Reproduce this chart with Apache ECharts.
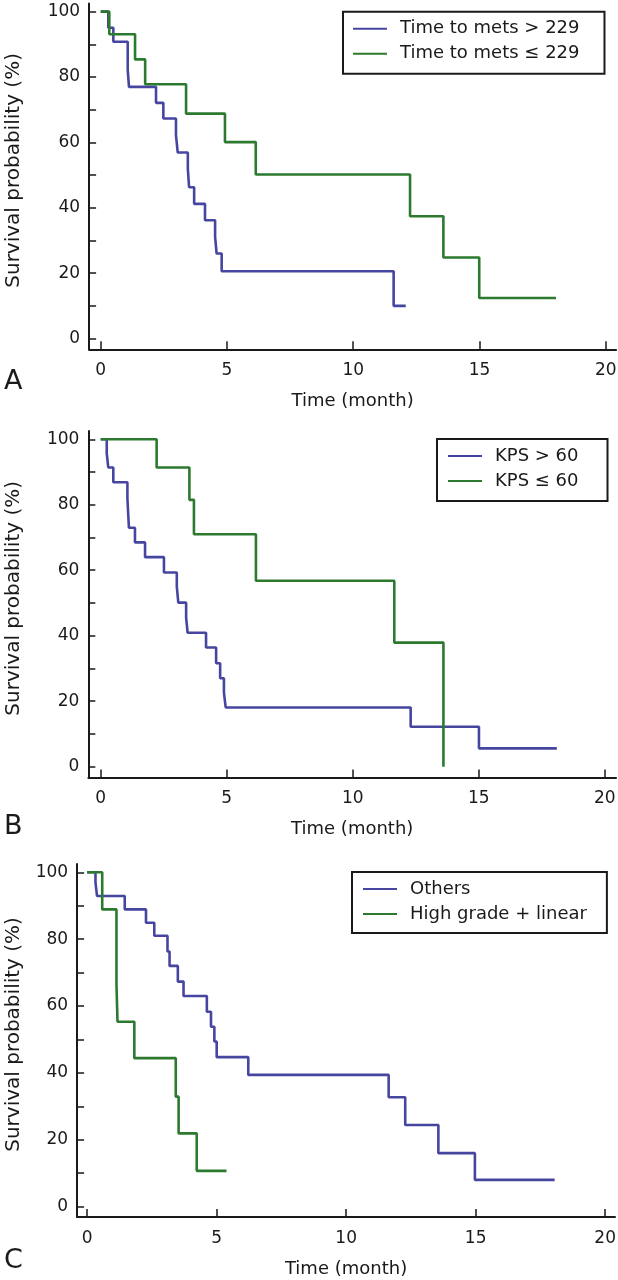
<!DOCTYPE html>
<html><head><meta charset="utf-8">
<script src="https://cdn.jsdelivr.net/npm/echarts@6.0.0/dist/echarts.min.js"></script>
<style>html,body{margin:0;padding:0;background:#fff}#c{width:618px;height:1280px}</style>
</head><body><div id="c"></div>
<script>
// ---- tick values ----
const xTickValues = [0, 5, 10, 15, 20];
const yLabelValues = [0, 20, 40, 60, 80, 100];
const yTickValues = [0, 10, 20, 30, 40, 50, 60, 70, 80, 90, 100];
const xTitle = 'Time (month)';
const yTitle = 'Survival probability (%)';
const panelLetters = ['A', 'B', 'C'];

// ---- Panel A ----
const aNames = ['Time to mets > 229', 'Time to mets \u2264 229'];
const aBlueTime = [0, 0.30, 0.50, 1.07, 1.12, 2.19, 2.48, 2.98, 3.05, 3.45, 3.50, 3.70, 4.13, 4.53, 4.59, 4.79, 11.60, 12.08];
const aBlueSurv = [100, 95.1, 90.8, 82.1, 77.0, 72.1, 67.3, 62.2, 56.9, 52.0, 46.3, 41.2, 36.2, 31.1, 26.0, 20.6, 10.0, 10.0];
const aGreenTime = [0, 0.34, 1.36, 1.76, 3.38, 4.92, 6.14, 12.25, 13.57, 14.99, 18.03];
const aGreenSurv = [100, 93.1, 85.4, 77.8, 68.8, 60.1, 50.2, 37.4, 24.8, 12.4, 12.4];

// ---- Panel B ----
const bNames = ['KPS > 60', 'KPS \u2264 60'];
const bBlueTime = [0, 0.24, 0.30, 0.50, 1.06, 1.09, 1.12, 1.36, 1.76, 2.51, 3.02, 3.08, 3.39, 3.45, 4.18, 4.58, 4.74, 4.89, 4.96, 12.30, 15.01, 18.10];
const bBlueSurv = [100, 95.7, 91.4, 86.9, 81.9, 77.4, 73.0, 68.5, 64.0, 59.3, 55.0, 50.1, 45.5, 40.9, 36.4, 31.6, 27.0, 22.6, 18.1, 12.2, 5.6, 5.6];
const bGreenTime = [0, 2.22, 3.52, 3.70, 6.16, 11.65, 13.60];
const bGreenSurv = [100, 91.4, 81.5, 71.0, 56.8, 37.9, 0];

// ---- Panel C ----
const cNames = ['Others', 'High grade + linear'];
const cBlueTime = [0, 0.32, 0.38, 1.45, 2.27, 2.59, 3.10, 3.18, 3.50, 3.72, 4.62, 4.78, 4.91, 5.00, 6.22, 11.64, 12.28, 13.56, 14.97, 18.05];
const cBlueSurv = [100, 96.9, 92.9, 88.9, 84.9, 81.0, 76.3, 72.0, 67.3, 63.0, 58.3, 53.8, 49.4, 44.7, 39.4, 32.7, 24.4, 16.0, 8.0, 8.0];
const cGreenTime = [0, 0.58, 1.13, 1.17, 1.82, 3.42, 3.53, 4.23, 5.38];
const cGreenSurv = [100, 88.9, 66.6, 55.3, 44.4, 32.9, 21.9, 10.7, 10.7];

const BLUE = '#4646a0';
const GREEN = '#2c7a30';
const INK = '#1a1a1a';
const FONT = 'DejaVu Sans';

const zip = (t, s) => t.map((v, i) => [v, s[i]]);

const panels = [
  {grid: {left: 89.1, top: 3.5, width: 527, height: 345.8}, x: [-0.46, 20.41], y: [-3.3, 102.5], yGap: 65,
   legend: {left: 343, top: 11.7, padding: [5, 25, 8, 10]}, names: aNames,
   blue: zip(aBlueTime, aBlueSurv), green: zip(aGreenTime, aGreenSurv), letterY: 384},
  {grid: {left: 88.35, top: 431.1, width: 527.7, height: 346.4}, x: [-0.49, 20.45], y: [-3.3, 102.5], yGap: 64.3,
   legend: {left: 437, top: 439, padding: [5, 29, 8, 11]}, names: bNames,
   blue: zip(bBlueTime, bBlueSurv), green: zip(bGreenTime, bGreenSurv), letterY: 829},
  {grid: {left: 77.1, top: 863.9, width: 537.9, height: 353.1}, x: [-0.39, 20.38], y: [-3.1, 102.5], yGap: 53,
   legend: {left: 352, top: 872, padding: [5, 20, 7, 11]}, names: cNames,
   blue: zip(cBlueTime, cBlueSurv), green: zip(cGreenTime, cGreenSurv), letterY: 1263}
];

const option = {
  backgroundColor: '#ffffff',
  animation: false,
  textStyle: {fontFamily: FONT},
  grid: [], xAxis: [], yAxis: [], series: [], legend: [], graphic: []
};

panels.forEach((p, i) => {
  option.grid.push(Object.assign({containLabel: false, outerBoundsMode: 'none'}, p.grid));
  option.xAxis.push({
    type: 'value', gridIndex: i, min: p.x[0], max: p.x[1],
    name: xTitle, nameLocation: 'middle', nameGap: 43, nameMoveOverlap: false,
    nameTextStyle: {fontFamily: FONT, fontSize: 18, color: INK},
    axisLine: {onZero: false, lineStyle: {color: INK, width: 2}},
    axisTick: {inside: true, length: 8, customValues: xTickValues, lineStyle: {color: INK, width: 1.5}},
    axisLabel: {customValues: xTickValues, fontFamily: FONT, fontSize: 17, color: INK, margin: 13},
    splitLine: {show: false}
  });
  option.yAxis.push({
    type: 'value', gridIndex: i, min: p.y[0], max: p.y[1],
    name: yTitle, nameLocation: 'middle', nameGap: p.yGap, nameRotate: 90, nameMoveOverlap: false,
    nameTextStyle: {fontFamily: FONT, fontSize: 20, color: INK, padding: [0, 0, 0, 12]},
    axisLine: {onZero: false, lineStyle: {color: INK, width: 2}},
    axisTick: {inside: true, length: 7, customValues: yTickValues, lineStyle: {color: INK, width: 1.5}},
    axisLabel: {customValues: yLabelValues, fontFamily: FONT, fontSize: 17, color: INK, margin: 9},
    splitLine: {show: false}
  });
  option.series.push({
    type: 'line', name: p.names[0], xAxisIndex: i, yAxisIndex: i, step: 'end',
    data: p.blue, showSymbol: false, symbol: 'none',
    lineStyle: {color: BLUE, width: 2.6}, itemStyle: {color: BLUE}
  });
  option.series.push({
    type: 'line', name: p.names[1], xAxisIndex: i, yAxisIndex: i, step: 'end',
    data: p.green, showSymbol: false, symbol: 'none',
    lineStyle: {color: GREEN, width: 2.6}, itemStyle: {color: GREEN}
  });
  option.legend.push({
    data: p.names, orient: 'vertical', left: p.legend.left, top: p.legend.top,
    padding: p.legend.padding, itemGap: 1, itemWidth: 34, itemHeight: 2,
    icon: 'rect', borderColor: INK, borderWidth: 2, backgroundColor: '#fff',
    selectedMode: false,
    textStyle: {fontFamily: FONT, fontSize: 18, color: INK, lineHeight: 24, padding: [0, 0, 0, 8]}
  });
  option.graphic.push({
    type: 'text', left: 4, top: p.letterY - 16,
    style: {text: panelLetters[i], fontFamily: FONT, fontSize: 27, fill: INK}
  });
});

const chart = echarts.init(document.getElementById('c'), null, {renderer: 'canvas'});
chart.setOption(option);
</script>
</body></html>
